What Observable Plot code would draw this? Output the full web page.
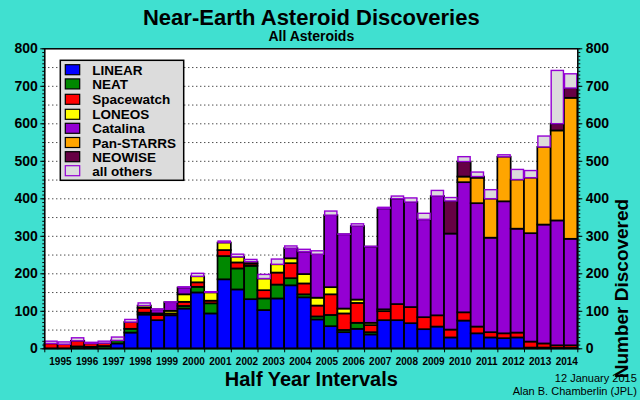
<!DOCTYPE html>
<html><head><meta charset="utf-8">
<script src="https://cdn.jsdelivr.net/npm/d3@7"></script>
<script src="https://cdn.jsdelivr.net/npm/@observablehq/plot@0.6"></script>
<style>
html,body{margin:0;padding:0;background:#40e0d0;}
#chart{width:640px;height:400px;}
</style>
</head><body><div id="chart"></div>
<script>
// ---- data (half-year intervals 1995a .. 2014b) ----
const years = [1995,1996,1997,1998,1999,2000,2001,2002,2003,2004,2005,2006,2007,2008,2009,2010,2011,2012,2013,2014];
const series = ["LINEAR","NEAT","Spacewatch","LONEOS","Catalina","Pan-STARRS","NEOWISE","all others"];
const colors = ["#0000ff","#008800","#ff0000","#ffff00","#9400d3","#ffa500","#660044","#dcdcdc"];

const linear     = [0,0,0,0,0,13,42,90,75,88,106,149,93,184,157,131,102,133,168,136,77,59,43,52,37,75,75,67,51,58,29,74,40,29,27,29,2,2,1,1];
const neat       = [0,0,5,4,6,8,10,5,0,0,7,15,27,62,56,89,31,37,19,8,8,30,6,16,6,0,0,0,0,0,0,0,0,0,0,0,0,0,0,0];
const spacewatch = [13,11,15,9,8,0,18,13,14,5,11,12,7,16,16,6,22,32,40,29,29,55,44,53,19,24,43,43,32,30,21,22,18,14,13,13,16,11,7,7];
const loneos     = [0,0,0,0,0,0,0,6,4,7,20,16,22,20,15,5,31,22,13,25,21,19,13,9,6,5,0,0,0,0,0,0,0,0,0,0,0,0,0,0];
const catalina   = [0,0,0,0,0,0,0,0,11,23,18,0,0,0,0,0,0,0,27,60,116,192,198,196,203,269,281,280,261,318,256,347,329,252,352,277,289,317,333,284];
const panstarrs  = [0,0,0,0,0,0,0,0,0,0,0,0,0,0,0,0,0,0,0,0,0,0,0,0,0,0,0,0,0,0,0,15,68,104,119,131,148,207,240,376];
const neowise    = [0,0,0,0,0,0,0,0,0,0,0,0,0,0,0,0,0,0,0,0,0,0,0,0,0,0,0,0,0,0,87,40,3,0,0,0,0,0,18,26];
const others     = [6,6,8,3,5,9,7,7,1,1,2,8,2,4,7,6,11,14,6,6,9,11,1,6,1,3,7,11,16,15,9,13,12,24,5,27,19,29,142,38];

const yTicks = [0,100,200,300,400,500,600,700,800];
const yMinor = d3.range(0, 801, 10);
const gridValues = d3.range(50, 800, 50);

// ---- build stacked table ----
const values = [linear, neat, spacewatch, loneos, catalina, panstarrs, neowise, others];
const rows = [];
for (let i = 0; i < linear.length; i++) {
  let base = 0;
  series.forEach((s, k) => {
    const v = values[k][i];
    if (v > 0) rows.push({i, series: s, y1: base, y2: base + v});
    base += v;
  });
}
const boundaries = d3.range(0, years.length + 1).map(k => k * 2);

const chart = Plot.plot({
  width: 640, height: 400,
  marginLeft: 44.3, marginRight: 62.7, marginTop: 48.3, marginBottom: 51.7,
  style: {background: "#40e0d0", fontFamily: "'Liberation Sans', Arial, sans-serif", fontWeight: "bold", color: "black", overflow: "visible"},
  x: {domain: [0, linear.length], axis: null},
  y: {domain: [0, 800], axis: null},
  color: {domain: series, range: colors},
  marks: [
    Plot.frame({fill: "white", stroke: null}),
    Plot.ruleY(gridValues, {stroke: "black", strokeDasharray: "1,3", strokeWidth: 1}),
    Plot.rect(rows.filter(d => d.series !== "all others"), {x1: d => d.i, x2: d => d.i + 1, y1: "y1", y2: "y2", fill: "series", stroke: "black", strokeWidth: 1.7}),
    Plot.rect(rows.filter(d => d.series === "all others"), {x1: d => d.i + 0.04, x2: d => d.i + 0.96, y1: "y1", y2: "y2", fill: "series", stroke: "#9400d3", strokeWidth: 1.4}),
    Plot.frame({stroke: "black", strokeWidth: 1.5}),
    Plot.axisY({anchor: "left", ticks: yMinor, tickSize: 2, tickFormat: () => ""}),
    Plot.axisY({anchor: "right", ticks: yMinor, tickSize: 2, tickFormat: () => ""}),
    Plot.axisY({anchor: "left", ticks: yTicks, tickSize: 4, tickPadding: 3, fontSize: 14, fontWeight: "bold", tickFormat: d => String(d)}),
    Plot.axisY({anchor: "right", ticks: yTicks, tickSize: 4, tickPadding: 4, fontSize: 14, fontWeight: "bold", tickFormat: d => String(d)}),
    Plot.axisX({anchor: "bottom", ticks: boundaries, tickSize: 4, tickFormat: () => ""}),
    Plot.text(years, {x: d => (d - years[0]) * 2 + 1, text: d => String(d), frameAnchor: "bottom", dy: 12.5, dx: 2.3, fontSize: 10, fontWeight: "bold", lineAnchor: "middle"}),
    Plot.text(["Near-Earth Asteroid Discoveries"], {text: d => d, frameAnchor: "top", dy: -24.3, lineAnchor: "bottom", fontSize: 22, fontWeight: "bold"}),
    Plot.text(["All Asteroids"], {text: d => d, frameAnchor: "top", dy: -7.6, lineAnchor: "bottom", fontSize: 14, fontWeight: "bold"}),
    Plot.text(["Half Year Intervals"], {text: d => d, frameAnchor: "bottom", dy: 36.7, lineAnchor: "bottom", fontSize: 20, fontWeight: "bold"}),
    Plot.text(["Number Discovered"], {text: d => d, frameAnchor: "right", dx: 49.7, rotate: -90, lineAnchor: "bottom", fontSize: 19, fontWeight: "bold"}),
    Plot.text(["12 January 2015"], {text: d => d, frameAnchor: "bottom-right", dx: 59, dy: 33.5, textAnchor: "end", lineAnchor: "bottom", fontSize: 11, fontWeight: "normal"}),
    Plot.text(["Alan B. Chamberlin (JPL)"], {text: d => d, frameAnchor: "bottom-right", dx: 59, dy: 46.5, textAnchor: "end", lineAnchor: "bottom", fontSize: 11, fontWeight: "normal"})
  ]
});
document.getElementById("chart").appendChild(chart);

const svg = d3.select(chart);
svg.selectAll("text").filter(function() { return this.textContent === ""; }).remove();

// ---- legend ----
const legendRowY = [69.7, 83.9, 99.3, 114.3, 128.3, 142.5, 156.7, 170.7];
const lg = svg.append("g").attr("font-family", "'Liberation Sans', Arial, sans-serif").attr("text-anchor", "start");
lg.append("rect").attr("x", 60.3).attr("y", 60.3).attr("width", 123.4).attr("height", 120)
  .attr("fill", "#dcdcdc").attr("stroke", "black").attr("stroke-width", 1.5);
series.forEach((s, k) => {
  const cy = legendRowY[k];
  lg.append("rect").attr("x", 65.3).attr("y", cy - 5).attr("width", 14.4).attr("height", 10)
    .attr("fill", colors[k]).attr("stroke", s === "all others" ? "#9400d3" : "black").attr("stroke-width", 1.2);
  lg.append("text").attr("x", 92.3).attr("y", cy + 5).attr("font-size", 13.5).attr("font-weight", "bold")
    .attr("text-anchor", "start").attr("fill", "black").text(s);
});
</script>
</body></html>
